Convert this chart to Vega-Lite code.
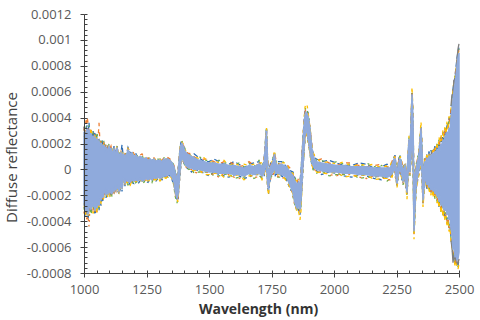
{
  "$schema": "https://vega.github.io/schema/vega-lite/v6.json",
  "width": 375,
  "height": 259,
  "autosize": "none",
  "padding": {"left": 84, "top": 14, "right": 21, "bottom": 47},
  "background": "white",
  "config": {"view": {"stroke": null}},
  "data": {"values": [
    {"w":1000,"lo":-2.8e-4,"hi":2.9e-4,"oh":3.0e-4,"ol":-3.4e-4,"bh":3.3e-4,"bl":-2.9e-4,"gh":3.1e-4,"gl":-3.1e-4,"yh":2.6e-4,"yl":-2.6e-4},
    {"w":1004,"lo":-2.3e-4,"hi":2.5e-4,"oh":3.8e-4,"ol":-2.4e-4,"bh":2.6e-4,"bl":-3.0e-4,"gh":2.9e-4,"gl":-2.5e-4,"yh":2.4e-4,"yl":-3.3e-4},
    {"w":1008,"lo":-3.3e-4,"hi":2.8e-4,"oh":2.9e-4,"ol":-3.4e-4,"bh":3.1e-4,"bl":-3.6e-4,"gh":3.3e-4,"gl":-3.2e-4,"yh":2.7e-4,"yl":-3.5e-4},
    {"w":1012,"lo":-2.7e-4,"hi":3.2e-4,"oh":4.1e-4,"ol":-4.0e-4,"bh":3.4e-4,"bl":-2.8e-4,"gh":2.8e-4,"gl":-3.0e-4,"yh":3.2e-4,"yl":-2.9e-4},
    {"w":1016,"lo":-3.5e-4,"hi":2.6e-4,"oh":3.6e-4,"ol":-3.6e-4,"bh":2.7e-4,"bl":-3.9e-4,"gh":3.0e-4,"gl":-3.4e-4,"yh":2.9e-4,"yl":-3.7e-4},
    {"w":1020,"lo":-3.0e-4,"hi":3.1e-4,"oh":3.0e-4,"ol":-4.4e-4,"bh":3.6e-4,"bl":-3.1e-4,"gh":3.4e-4,"gl":-3.3e-4,"yh":3.2e-4,"yl":-3.2e-4},
    {"w":1024,"lo":-2.5e-4,"hi":2.4e-4,"oh":2.6e-4,"ol":-2.7e-4,"bh":2.5e-4,"bl":-3.2e-4,"gh":2.9e-4,"gl":-2.6e-4,"yh":2.3e-4,"yl":-2.9e-4},
    {"w":1028,"lo":-3.1e-4,"hi":2.8e-4,"oh":3.0e-4,"ol":-3.0e-4,"bh":3.1e-4,"bl":-3.3e-4,"gh":2.7e-4,"gl":-3.5e-4,"yh":3.2e-4,"yl":-3.0e-4},
    {"w":1032,"lo":-2.5e-4,"hi":2.3e-4,"oh":2.9e-4,"ol":-2.7e-4,"bh":2.4e-4,"bl":-2.8e-4,"gh":2.6e-4,"gl":-3.1e-4,"yh":2.5e-4,"yl":-2.6e-4},
    {"w":1036,"lo":-2.9e-4,"hi":2.6e-4,"oh":2.7e-4,"ol":-3.1e-4,"bh":3.0e-4,"bl":-2.9e-4,"gh":2.8e-4,"gl":-3.2e-4,"yh":2.6e-4,"yl":-3.4e-4},
    {"w":1040,"lo":-2.6e-4,"hi":2.3e-4,"oh":2.8e-4,"ol":-2.9e-4,"bh":2.4e-4,"bl":-3.0e-4,"gh":2.5e-4,"gl":-2.7e-4,"yh":2.2e-4,"yl":-3.2e-4},
    {"w":1044,"lo":-3.2e-4,"hi":2.5e-4,"oh":2.4e-4,"ol":-3.4e-4,"bh":2.9e-4,"bl":-3.5e-4,"gh":2.6e-4,"gl":-3.3e-4,"yh":2.8e-4,"yl":-3.3e-4},
    {"w":1048,"lo":-2.7e-4,"hi":2.0e-4,"oh":2.6e-4,"ol":-2.8e-4,"bh":2.2e-4,"bl":-3.0e-4,"gh":2.3e-4,"gl":-3.1e-4,"yh":2.1e-4,"yl":-2.8e-4},
    {"w":1052,"lo":-3.0e-4,"hi":2.4e-4,"oh":2.3e-4,"ol":-3.3e-4,"bh":2.6e-4,"bl":-3.1e-4,"gh":2.9e-4,"gl":-3.0e-4,"yh":2.5e-4,"yl":-3.4e-4},
    {"w":1056,"lo":-2.4e-4,"hi":2.0e-4,"oh":2.2e-4,"ol":-2.7e-4,"bh":2.4e-4,"bl":-2.5e-4,"gh":2.1e-4,"gl":-2.8e-4,"yh":2.3e-4,"yl":-2.6e-4},
    {"w":1060,"lo":-2.8e-4,"hi":2.2e-4,"oh":3.6e-4,"ol":-2.9e-4,"bh":2.3e-4,"bl":-3.2e-4,"gh":2.4e-4,"gl":-3.0e-4,"yh":2.2e-4,"yl":-2.9e-4},
    {"w":1064,"lo":-2.1e-4,"hi":1.8e-4,"oh":2.0e-4,"ol":-2.3e-4,"bh":2.1e-4,"bl":-2.2e-4,"gh":1.9e-4,"gl":-2.4e-4,"yh":1.8e-4,"yl":-2.5e-4},
    {"w":1068,"lo":-2.4e-4,"hi":2.0e-4,"oh":2.2e-4,"ol":-2.5e-4,"bh":2.1e-4,"bl":-2.8e-4,"gh":2.4e-4,"gl":-2.5e-4,"yh":2.0e-4,"yl":-2.6e-4},
    {"w":1072,"lo":-1.8e-4,"hi":1.9e-4,"oh":2.0e-4,"ol":-2.0e-4,"bh":2.3e-4,"bl":-1.9e-4,"gh":2.0e-4,"gl":-2.1e-4,"yh":1.9e-4,"yl":-2.0e-4},
    {"w":1076,"lo":-2.2e-4,"hi":1.6e-4,"oh":1.8e-4,"ol":-2.3e-4,"bh":1.7e-4,"bl":-2.5e-4,"gh":1.9e-4,"gl":-2.2e-4,"yh":1.6e-4,"yl":-2.4e-4},
    {"w":1080,"lo":-1.8e-4,"hi":1.9e-4,"oh":2.1e-4,"ol":-2.0e-4,"bh":2.0e-4,"bl":-1.9e-4,"gh":2.2e-4,"gl":-1.8e-4,"yh":2.0e-4,"yl":-2.1e-4},
    {"w":1084,"lo":-1.6e-4,"hi":1.5e-4,"oh":1.6e-4,"ol":-1.7e-4,"bh":1.8e-4,"bl":-1.8e-4,"gh":1.5e-4,"gl":-1.9e-4,"yh":1.7e-4,"yl":-1.6e-4},
    {"w":1088,"lo":-2.0e-4,"hi":1.7e-4,"oh":1.9e-4,"ol":-2.0e-4,"bh":1.8e-4,"bl":-2.2e-4,"gh":2.0e-4,"gl":-2.1e-4,"yh":1.7e-4,"yl":-2.0e-4},
    {"w":1092,"lo":-1.7e-4,"hi":1.4e-4,"oh":1.5e-4,"ol":-1.8e-4,"bh":1.6e-4,"bl":-1.9e-4,"gh":1.5e-4,"gl":-1.8e-4,"yh":1.4e-4,"yl":-1.9e-4},
    {"w":1096,"lo":-1.9e-4,"hi":1.6e-4,"oh":1.7e-4,"ol":-2.1e-4,"bh":1.9e-4,"bl":-1.9e-4,"gh":1.6e-4,"gl":-2.0e-4,"yh":1.8e-4,"yl":-2.2e-4},
    {"w":1100,"lo":-1.5e-4,"hi":1.8e-4,"oh":1.9e-4,"ol":-1.6e-4,"bh":1.8e-4,"bl":-1.7e-4,"gh":2.0e-4,"gl":-1.5e-4,"yh":1.8e-4,"yl":-1.6e-4},
    {"w":1104,"lo":-1.8e-4,"hi":1.5e-4,"oh":1.6e-4,"ol":-1.9e-4,"bh":1.7e-4,"bl":-2.0e-4,"gh":1.5e-4,"gl":-1.8e-4,"yh":1.6e-4,"yl":-2.1e-4},
    {"w":1108,"lo":-1.6e-4,"hi":1.6e-4,"oh":1.8e-4,"ol":-1.6e-4,"bh":1.6e-4,"bl":-1.8e-4,"gh":1.7e-4,"gl":-1.7e-4,"yh":1.6e-4,"yl":-1.6e-4},
    {"w":1112,"lo":-1.9e-4,"hi":1.3e-4,"oh":1.4e-4,"ol":-2.0e-4,"bh":1.5e-4,"bl":-1.9e-4,"gh":1.3e-4,"gl":-2.1e-4,"yh":1.4e-4,"yl":-1.9e-4},
    {"w":1116,"lo":-1.5e-4,"hi":1.4e-4,"oh":1.5e-4,"ol":-1.6e-4,"bh":1.4e-4,"bl":-1.5e-4,"gh":1.6e-4,"gl":-1.6e-4,"yh":1.5e-4,"yl":-1.7e-4},
    {"w":1120,"lo":-1.7e-4,"hi":1.6e-4,"oh":1.6e-4,"ol":-1.8e-4,"bh":1.8e-4,"bl":-1.7e-4,"gh":1.6e-4,"gl":-1.9e-4,"yh":1.7e-4,"yl":-1.7e-4},
    {"w":1124,"lo":-1.4e-4,"hi":1.2e-4,"oh":1.3e-4,"ol":-1.5e-4,"bh":1.3e-4,"bl":-1.6e-4,"gh":1.4e-4,"gl":-1.4e-4,"yh":1.2e-4,"yl":-1.5e-4},
    {"w":1128,"lo":-1.6e-4,"hi":1.4e-4,"oh":1.6e-4,"ol":-1.7e-4,"bh":1.5e-4,"bl":-1.6e-4,"gh":1.4e-4,"gl":-1.8e-4,"yh":1.5e-4,"yl":-1.6e-4},
    {"w":1132,"lo":-1.3e-4,"hi":1.7e-4,"oh":1.7e-4,"ol":-1.4e-4,"bh":1.8e-4,"bl":-1.3e-4,"gh":1.7e-4,"gl":-1.4e-4,"yh":1.8e-4,"yl":-1.5e-4},
    {"w":1136,"lo":-1.5e-4,"hi":1.3e-4,"oh":1.4e-4,"ol":-1.6e-4,"bh":1.3e-4,"bl":-1.7e-4,"gh":1.5e-4,"gl":-1.5e-4,"yh":1.4e-4,"yl":-1.6e-4},
    {"w":1140,"lo":-1.7e-4,"hi":1.2e-4,"oh":1.3e-4,"ol":-1.8e-4,"bh":1.2e-4,"bl":-1.9e-4,"gh":1.3e-4,"gl":-1.7e-4,"yh":1.2e-4,"yl":-1.8e-4},
    {"w":1144,"lo":-1.4e-4,"hi":1.1e-4,"oh":1.2e-4,"ol":-1.5e-4,"bh":1.1e-4,"bl":-1.6e-4,"gh":1.2e-4,"gl":-1.4e-4,"yh":1.1e-4,"yl":-1.5e-4},
    {"w":1148,"lo":-1.2e-4,"hi":1.3e-4,"oh":1.4e-4,"ol":-1.3e-4,"bh":1.3e-4,"bl":-1.2e-4,"gh":1.3e-4,"gl":-1.4e-4,"yh":1.4e-4,"yl":-1.3e-4},
    {"w":1152,"lo":-1.5e-4,"hi":1.0e-4,"oh":1.1e-4,"ol":-1.6e-4,"bh":1.9e-4,"bl":-1.7e-4,"gh":1.1e-4,"gl":-1.5e-4,"yh":1.0e-4,"yl":-1.6e-4},
    {"w":1156,"lo":-0.7e-4,"hi":1.2e-4,"oh":1.3e-4,"ol":-0.8e-4,"bh":1.2e-4,"bl":-0.9e-4,"gh":1.4e-4,"gl":-0.7e-4,"yh":1.3e-4,"yl":-0.8e-4},
    {"w":1160,"lo":-0.8e-4,"hi":0.9e-4,"oh":1.0e-4,"ol":-0.9e-4,"bh":1.1e-4,"bl":-0.8e-4,"gh":0.9e-4,"gl":-1.0e-4,"yh":1.0e-4,"yl":-0.9e-4},
    {"w":1164,"lo":-1.1e-4,"hi":1.1e-4,"oh":1.2e-4,"ol":-1.2e-4,"bh":1.1e-4,"bl":-1.3e-4,"gh":1.2e-4,"gl":-1.1e-4,"yh":1.1e-4,"yl":-1.2e-4},
    {"w":1168,"lo":-0.8e-4,"hi":1.0e-4,"oh":1.1e-4,"ol":-0.9e-4,"bh":1.0e-4,"bl":-0.8e-4,"gh":1.2e-4,"gl":-0.9e-4,"yh":1.0e-4,"yl":-1.0e-4},
    {"w":1176,"lo":-0.9e-4,"hi":1.5e-4,"oh":1.6e-4,"ol":-1.0e-4,"bh":1.7e-4,"bl":-0.9e-4,"gh":1.5e-4,"gl":-1.2e-4,"yh":1.6e-4,"yl":-1.0e-4},
    {"w":1184,"lo":-1.0e-4,"hi":1.2e-4,"oh":1.4e-4,"ol":-1.1e-4,"bh":1.3e-4,"bl":-1.2e-4,"gh":1.2e-4,"gl":-1.0e-4,"yh":1.3e-4,"yl":-1.3e-4},
    {"w":1192,"lo":-0.8e-4,"hi":1.3e-4,"oh":1.5e-4,"ol":-0.9e-4,"bh":1.3e-4,"bl":-1.0e-4,"gh":1.4e-4,"gl":-0.9e-4,"yh":1.3e-4,"yl":-0.8e-4},
    {"w":1200,"lo":-0.9e-4,"hi":1.0e-4,"oh":1.2e-4,"ol":-1.0e-4,"bh":1.1e-4,"bl":-1.1e-4,"gh":1.0e-4,"gl":-1.2e-4,"yh":1.1e-4,"yl":-0.9e-4},
    {"w":1208,"lo":-0.8e-4,"hi":1.1e-4,"oh":1.0e-4,"ol":-0.9e-4,"bh":1.2e-4,"bl":-0.8e-4,"gh":1.1e-4,"gl":-1.0e-4,"yh":1.2e-4,"yl":-0.9e-4},
    {"w":1216,"lo":-0.9e-4,"hi":0.9e-4,"oh":1.0e-4,"ol":-1.0e-4,"bh":0.9e-4,"bl":-1.1e-4,"gh":1.0e-4,"gl":-0.9e-4,"yh":0.9e-4,"yl":-1.0e-4},
    {"w":1224,"lo":-0.7e-4,"hi":1.0e-4,"oh":1.1e-4,"ol":-0.8e-4,"bh":1.0e-4,"bl":-0.9e-4,"gh":1.1e-4,"gl":-0.7e-4,"yh":1.0e-4,"yl":-0.8e-4},
    {"w":1232,"lo":-0.9e-4,"hi":0.9e-4,"oh":1.2e-4,"ol":-0.9e-4,"bh":0.9e-4,"bl":-1.0e-4,"gh":1.0e-4,"gl":-1.1e-4,"yh":0.9e-4,"yl":-0.9e-4},
    {"w":1240,"lo":-0.8e-4,"hi":0.8e-4,"oh":0.9e-4,"ol":-0.9e-4,"bh":0.8e-4,"bl":-0.8e-4,"gh":0.9e-4,"gl":-1.0e-4,"yh":0.8e-4,"yl":-0.9e-4},
    {"w":1248,"lo":-0.7e-4,"hi":0.9e-4,"oh":1.0e-4,"ol":-0.8e-4,"bh":0.9e-4,"bl":-0.9e-4,"gh":0.9e-4,"gl":-0.7e-4,"yh":1.0e-4,"yl":-0.8e-4},
    {"w":1256,"lo":-0.8e-4,"hi":0.7e-4,"oh":0.8e-4,"ol":-0.9e-4,"bh":0.7e-4,"bl":-1.0e-4,"gh":0.8e-4,"gl":-0.8e-4,"yh":0.7e-4,"yl":-0.9e-4},
    {"w":1264,"lo":-0.7e-4,"hi":0.8e-4,"oh":0.9e-4,"ol":-0.7e-4,"bh":0.8e-4,"bl":-0.8e-4,"gh":1.0e-4,"gl":-0.7e-4,"yh":0.8e-4,"yl":-0.8e-4},
    {"w":1272,"lo":-0.8e-4,"hi":0.7e-4,"oh":0.7e-4,"ol":-0.9e-4,"bh":0.8e-4,"bl":-0.8e-4,"gh":0.7e-4,"gl":-1.0e-4,"yh":0.8e-4,"yl":-0.8e-4},
    {"w":1280,"lo":-0.6e-4,"hi":0.8e-4,"oh":0.9e-4,"ol":-0.7e-4,"bh":0.8e-4,"bl":-0.7e-4,"gh":0.8e-4,"gl":-0.6e-4,"yh":0.9e-4,"yl":-0.8e-4},
    {"w":1288,"lo":-0.7e-4,"hi":0.6e-4,"oh":0.7e-4,"ol":-0.8e-4,"bh":0.6e-4,"bl":-0.9e-4,"gh":0.7e-4,"gl":-0.7e-4,"yh":0.6e-4,"yl":-0.8e-4},
    {"w":1296,"lo":-0.6e-4,"hi":0.7e-4,"oh":0.8e-4,"ol":-0.6e-4,"bh":0.7e-4,"bl":-0.7e-4,"gh":0.8e-4,"gl":-0.8e-4,"yh":0.7e-4,"yl":-0.6e-4},
    {"w":1304,"lo":-0.7e-4,"hi":0.7e-4,"oh":0.7e-4,"ol":-0.8e-4,"bh":0.8e-4,"bl":-0.7e-4,"gh":0.7e-4,"gl":-0.7e-4,"yh":0.8e-4,"yl":-0.9e-4},
    {"w":1312,"lo":-0.6e-4,"hi":0.6e-4,"oh":0.7e-4,"ol":-0.6e-4,"bh":0.6e-4,"bl":-0.8e-4,"gh":0.7e-4,"gl":-0.6e-4,"yh":0.6e-4,"yl":-0.7e-4},
    {"w":1320,"lo":-0.5e-4,"hi":0.8e-4,"oh":0.9e-4,"ol":-0.6e-4,"bh":0.8e-4,"bl":-0.5e-4,"gh":0.9e-4,"gl":-0.7e-4,"yh":0.8e-4,"yl":-0.6e-4},
    {"w":1328,"lo":-0.5e-4,"hi":0.7e-4,"oh":0.7e-4,"ol":-0.6e-4,"bh":0.8e-4,"bl":-0.6e-4,"gh":0.7e-4,"gl":-0.5e-4,"yh":0.7e-4,"yl":-0.7e-4},
    {"w":1336,"lo":-0.4e-4,"hi":0.8e-4,"oh":0.9e-4,"ol":-0.5e-4,"bh":0.8e-4,"bl":-0.4e-4,"gh":0.8e-4,"gl":-0.6e-4,"yh":0.9e-4,"yl":-0.5e-4},
    {"w":1344,"lo":-0.4e-4,"hi":0.7e-4,"oh":0.8e-4,"ol":-0.5e-4,"bh":0.7e-4,"bl":-0.5e-4,"gh":0.8e-4,"gl":-0.4e-4,"yh":0.7e-4,"yl":-0.5e-4},
    {"w":1352,"lo":-0.6e-4,"hi":0.5e-4,"oh":0.6e-4,"ol":-0.7e-4,"bh":0.5e-4,"bl":-0.8e-4,"gh":0.6e-4,"gl":-0.6e-4,"yh":0.5e-4,"yl":-0.7e-4},
    {"w":1360,"lo":-1.0e-4,"hi":0.2e-4,"oh":0.3e-4,"ol":-1.1e-4,"bh":0.2e-4,"bl":-1.2e-4,"gh":0.3e-4,"gl":-1.3e-4,"yh":0.2e-4,"yl":-1.1e-4},
    {"w":1364,"lo":-1.6e-4,"hi":-0.2e-4,"oh":-0.1e-4,"ol":-1.8e-4,"bh":-0.2e-4,"bl":-1.7e-4,"gh":-0.1e-4,"gl":-2.0e-4,"yh":-0.2e-4,"yl":-1.7e-4},
    {"w":1368,"lo":-2.0e-4,"hi":-0.5e-4,"oh":-0.4e-4,"ol":-2.2e-4,"bh":-0.4e-4,"bl":-2.1e-4,"gh":-0.3e-4,"gl":-2.3e-4,"yh":-0.5e-4,"yl":-2.1e-4},
    {"w":1372,"lo":-2.2e-4,"hi":-0.7e-4,"oh":-0.6e-4,"ol":-2.3e-4,"bh":-0.6e-4,"bl":-2.4e-4,"gh":-0.5e-4,"gl":-2.6e-4,"yh":-0.7e-4,"yl":-2.3e-4},
    {"w":1376,"lo":-2.0e-4,"hi":-0.3e-4,"oh":-0.2e-4,"ol":-2.2e-4,"bh":-0.2e-4,"bl":-2.4e-4,"gh":-0.1e-4,"gl":-2.1e-4,"yh":-0.3e-4,"yl":-2.5e-4},
    {"w":1380,"lo":-1.2e-4,"hi":0.6e-4,"oh":0.7e-4,"ol":-1.4e-4,"bh":0.7e-4,"bl":-1.3e-4,"gh":0.8e-4,"gl":-1.3e-4,"yh":0.6e-4,"yl":-1.2e-4},
    {"w":1384,"lo":-0.2e-4,"hi":1.5e-4,"oh":1.6e-4,"ol":-0.3e-4,"bh":1.6e-4,"bl":-0.4e-4,"gh":1.7e-4,"gl":-0.3e-4,"yh":1.6e-4,"yl":-0.2e-4},
    {"w":1388,"lo":0.6e-4,"hi":1.9e-4,"oh":2.0e-4,"ol":0.5e-4,"bh":2.1e-4,"bl":0.5e-4,"gh":2.0e-4,"gl":0.4e-4,"yh":2.0e-4,"yl":0.6e-4},
    {"w":1392,"lo":0.9e-4,"hi":2.0e-4,"oh":2.1e-4,"ol":0.8e-4,"bh":2.1e-4,"bl":0.7e-4,"gh":2.2e-4,"gl":0.8e-4,"yh":2.1e-4,"yl":0.9e-4},
    {"w":1396,"lo":0.8e-4,"hi":1.8e-4,"oh":1.9e-4,"ol":0.7e-4,"bh":2.0e-4,"bl":0.7e-4,"gh":1.9e-4,"gl":0.6e-4,"yh":2.0e-4,"yl":0.8e-4},
    {"w":1400,"lo":0.6e-4,"hi":1.6e-4,"oh":1.7e-4,"ol":0.5e-4,"bh":1.7e-4,"bl":0.5e-4,"gh":1.8e-4,"gl":0.5e-4,"yh":1.7e-4,"yl":0.6e-4},
    {"w":1404,"lo":0.4e-4,"hi":1.4e-4,"oh":1.5e-4,"ol":0.3e-4,"bh":1.5e-4,"bl":0.3e-4,"gh":1.6e-4,"gl":0.3e-4,"yh":1.5e-4,"yl":0.4e-4},
    {"w":1412,"lo":0.2e-4,"hi":1.2e-4,"oh":1.3e-4,"ol":0.1e-4,"bh":1.3e-4,"bl":0.1e-4,"gh":1.3e-4,"gl":0.1e-4,"yh":1.3e-4,"yl":0.2e-4},
    {"w":1420,"lo":0.1e-4,"hi":1.1e-4,"oh":1.2e-4,"ol":0,"bh":1.1e-4,"bl":0,"gh":1.2e-4,"gl":0,"yh":1.2e-4,"yl":0.1e-4},
    {"w":1430,"lo":0.1e-4,"hi":1.0e-4,"oh":1.3e-4,"ol":0,"bh":1.1e-4,"bl":-0.2e-4,"gh":1.2e-4,"gl":0.1e-4,"yh":1.0e-4,"yl":-0.1e-4},
    {"w":1440,"lo":0,"hi":0.9e-4,"oh":1.0e-4,"ol":-0.2e-4,"bh":1.2e-4,"bl":0,"gh":0.9e-4,"gl":-0.3e-4,"yh":1.1e-4,"yl":-0.1e-4},
    {"w":1460,"lo":0,"hi":0.7e-4,"oh":0.7e-4,"ol":-0.3e-4,"bh":0.9e-4,"bl":-0.1e-4,"gh":1.0e-4,"gl":-0.2e-4,"yh":0.8e-4,"yl":0},
    {"w":1480,"lo":-0.1e-4,"hi":0.6e-4,"oh":0.8e-4,"ol":-0.1e-4,"bh":0.6e-4,"bl":-0.3e-4,"gh":0.7e-4,"gl":-0.2e-4,"yh":0.9e-4,"yl":-0.4e-4},
    {"w":1500,"lo":-0.2e-4,"hi":0.5e-4,"oh":0.8e-4,"ol":-0.3e-4,"bh":0.6e-4,"bl":-0.5e-4,"gh":0.7e-4,"gl":-0.2e-4,"yh":0.5e-4,"yl":-0.4e-4},
    {"w":1520,"lo":-0.2e-4,"hi":0.5e-4,"oh":0.6e-4,"ol":-0.4e-4,"bh":0.8e-4,"bl":-0.2e-4,"gh":0.5e-4,"gl":-0.5e-4,"yh":0.7e-4,"yl":-0.3e-4},
    {"w":1540,"lo":-0.3e-4,"hi":0.4e-4,"oh":0.4e-4,"ol":-0.6e-4,"bh":0.6e-4,"bl":-0.4e-4,"gh":0.7e-4,"gl":-0.5e-4,"yh":0.5e-4,"yl":-0.3e-4},
    {"w":1560,"lo":-0.3e-4,"hi":0.4e-4,"oh":0.6e-4,"ol":-0.3e-4,"bh":0.4e-4,"bl":-0.5e-4,"gh":0.5e-4,"gl":-0.4e-4,"yh":0.7e-4,"yl":-0.6e-4},
    {"w":1580,"lo":-0.3e-4,"hi":0.3e-4,"oh":0.6e-4,"ol":-0.4e-4,"bh":0.4e-4,"bl":-0.6e-4,"gh":0.5e-4,"gl":-0.3e-4,"yh":0.3e-4,"yl":-0.5e-4},
    {"w":1600,"lo":-0.4e-4,"hi":0.3e-4,"oh":0.4e-4,"ol":-0.6e-4,"bh":0.6e-4,"bl":-0.4e-4,"gh":0.3e-4,"gl":-0.7e-4,"yh":0.5e-4,"yl":-0.5e-4},
    {"w":1620,"lo":-0.4e-4,"hi":0.2e-4,"oh":0.2e-4,"ol":-0.7e-4,"bh":0.4e-4,"bl":-0.5e-4,"gh":0.5e-4,"gl":-0.6e-4,"yh":0.3e-4,"yl":-0.4e-4},
    {"w":1640,"lo":-0.5e-4,"hi":0.1e-4,"oh":0.3e-4,"ol":-0.5e-4,"bh":0.1e-4,"bl":-0.7e-4,"gh":0.2e-4,"gl":-0.6e-4,"yh":0.4e-4,"yl":-0.8e-4},
    {"w":1660,"lo":-0.3e-4,"hi":0.3e-4,"oh":0.6e-4,"ol":-0.4e-4,"bh":0.4e-4,"bl":-0.6e-4,"gh":0.5e-4,"gl":-0.3e-4,"yh":0.3e-4,"yl":-0.5e-4},
    {"w":1680,"lo":-0.4e-4,"hi":0.2e-4,"oh":0.3e-4,"ol":-0.6e-4,"bh":0.5e-4,"bl":-0.4e-4,"gh":0.2e-4,"gl":-0.7e-4,"yh":0.4e-4,"yl":-0.5e-4},
    {"w":1700,"lo":-0.3e-4,"hi":0.4e-4,"oh":0.4e-4,"ol":-0.6e-4,"bh":0.6e-4,"bl":-0.4e-4,"gh":0.7e-4,"gl":-0.5e-4,"yh":0.5e-4,"yl":-0.3e-4},
    {"w":1712,"lo":-0.5e-4,"hi":0.2e-4,"oh":0.4e-4,"ol":-0.5e-4,"bh":0.2e-4,"bl":-0.7e-4,"gh":0.3e-4,"gl":-0.6e-4,"yh":0.5e-4,"yl":-0.8e-4},
    {"w":1720,"lo":-0.3e-4,"hi":0.5e-4,"oh":0.8e-4,"ol":-0.4e-4,"bh":0.6e-4,"bl":-0.6e-4,"gh":0.7e-4,"gl":-0.3e-4,"yh":0.5e-4,"yl":-0.5e-4},
    {"w":1726,"lo":0.3e-4,"hi":2.0e-4,"oh":2.1e-4,"ol":0.1e-4,"bh":2.3e-4,"bl":0.3e-4,"gh":2.0e-4,"gl":0,"yh":2.2e-4,"yl":0.2e-4},
    {"w":1730,"lo":1.2e-4,"hi":3.0e-4,"oh":3.0e-4,"ol":0.9e-4,"bh":3.2e-4,"bl":1.1e-4,"gh":3.3e-4,"gl":1.0e-4,"yh":3.2e-4,"yl":1.2e-4},
    {"w":1734,"lo":-1.0e-4,"hi":0.8e-4,"oh":1.0e-4,"ol":-1.0e-4,"bh":0.8e-4,"bl":-1.2e-4,"gh":0.9e-4,"gl":-1.1e-4,"yh":1.1e-4,"yl":-1.3e-4},
    {"w":1738,"lo":-1.6e-4,"hi":-0.6e-4,"oh":-0.3e-4,"ol":-1.7e-4,"bh":-0.5e-4,"bl":-1.9e-4,"gh":-0.4e-4,"gl":-1.6e-4,"yh":-0.6e-4,"yl":-2.0e-4},
    {"w":1742,"lo":-0.8e-4,"hi":0,"oh":0.2e-4,"ol":-0.9e-4,"bh":0.1e-4,"bl":-1.1e-4,"gh":0.3e-4,"gl":-0.8e-4,"yh":0,"yl":-1.0e-4},
    {"w":1748,"lo":-0.4e-4,"hi":0.3e-4,"oh":0.4e-4,"ol":-0.7e-4,"bh":0.6e-4,"bl":-0.5e-4,"gh":0.3e-4,"gl":-0.6e-4,"yh":0.5e-4,"yl":-0.4e-4},
    {"w":1756,"lo":-0.2e-4,"hi":0.6e-4,"oh":0.6e-4,"ol":-0.5e-4,"bh":0.8e-4,"bl":-0.3e-4,"gh":0.9e-4,"gl":-0.4e-4,"yh":0.7e-4,"yl":-0.2e-4},
    {"w":1762,"lo":0.2e-4,"hi":1.2e-4,"oh":1.4e-4,"ol":0.2e-4,"bh":1.2e-4,"bl":0,"gh":1.3e-4,"gl":0.1e-4,"yh":1.5e-4,"yl":-0.1e-4},
    {"w":1766,"lo":-0.3e-4,"hi":0.6e-4,"oh":0.9e-4,"ol":-0.4e-4,"bh":0.7e-4,"bl":-0.6e-4,"gh":0.8e-4,"gl":-0.3e-4,"yh":0.6e-4,"yl":-0.5e-4},
    {"w":1772,"lo":-0.3e-4,"hi":0.3e-4,"oh":0.4e-4,"ol":-0.5e-4,"bh":0.6e-4,"bl":-0.3e-4,"gh":0.3e-4,"gl":-0.6e-4,"yh":0.5e-4,"yl":-0.4e-4},
    {"w":1790,"lo":-0.4e-4,"hi":0.4e-4,"oh":0.4e-4,"ol":-0.7e-4,"bh":0.6e-4,"bl":-0.5e-4,"gh":0.7e-4,"gl":-0.6e-4,"yh":0.5e-4,"yl":-0.4e-4},
    {"w":1810,"lo":-0.6e-4,"hi":0.2e-4,"oh":0.4e-4,"ol":-0.6e-4,"bh":0.2e-4,"bl":-0.8e-4,"gh":0.3e-4,"gl":-0.7e-4,"yh":0.5e-4,"yl":-0.9e-4},
    {"w":1824,"lo":-1.2e-4,"hi":-0.2e-4,"oh":0.1e-4,"ol":-1.3e-4,"bh":-0.1e-4,"bl":-1.5e-4,"gh":0,"gl":-1.2e-4,"yh":-0.2e-4,"yl":-1.4e-4},
    {"w":1836,"lo":-1.8e-4,"hi":-0.5e-4,"oh":-0.4e-4,"ol":-2.0e-4,"bh":-0.2e-4,"bl":-1.8e-4,"gh":-0.5e-4,"gl":-2.1e-4,"yh":-0.3e-4,"yl":-1.9e-4},
    {"w":1844,"lo":-2.6e-4,"hi":-0.9e-4,"oh":-0.9e-4,"ol":-2.9e-4,"bh":-0.7e-4,"bl":-2.7e-4,"gh":-0.6e-4,"gl":-2.8e-4,"yh":-0.8e-4,"yl":-2.6e-4},
    {"w":1852,"lo":-3.0e-4,"hi":-1.2e-4,"oh":-1.0e-4,"ol":-3.0e-4,"bh":-1.2e-4,"bl":-3.2e-4,"gh":-1.1e-4,"gl":-3.1e-4,"yh":-0.9e-4,"yl":-3.3e-4},
    {"w":1858,"lo":-2.8e-4,"hi":-1.0e-4,"oh":-0.7e-4,"ol":-2.9e-4,"bh":-0.9e-4,"bl":-3.1e-4,"gh":-0.8e-4,"gl":-2.8e-4,"yh":-1.0e-4,"yl":-3.2e-4},
    {"w":1864,"lo":-3.1e-4,"hi":-1.3e-4,"oh":-1.1e-4,"ol":-3.3e-4,"bh":-0.9e-4,"bl":-3.5e-4,"gh":-1.2e-4,"gl":-3.2e-4,"yh":-1.0e-4,"yl":-3.9e-4},
    {"w":1868,"lo":-2.4e-4,"hi":-0.4e-4,"oh":-0.3e-4,"ol":-2.6e-4,"bh":-0.1e-4,"bl":-2.5e-4,"gh":-0.2e-4,"gl":-2.8e-4,"yh":-0.4e-4,"yl":-3.2e-4},
    {"w":1872,"lo":-1.0e-4,"hi":1.0e-4,"oh":1.2e-4,"ol":-1.1e-4,"bh":1.1e-4,"bl":-1.3e-4,"gh":1.3e-4,"gl":-1.2e-4,"yh":1.0e-4,"yl":-1.4e-4},
    {"w":1876,"lo":0.3e-4,"hi":2.2e-4,"oh":2.4e-4,"ol":0.2e-4,"bh":2.5e-4,"bl":0,"gh":2.3e-4,"gl":0.1e-4,"yh":2.6e-4,"yl":0.2e-4},
    {"w":1880,"lo":1.5e-4,"hi":3.4e-4,"oh":3.6e-4,"ol":1.3e-4,"bh":3.7e-4,"bl":1.4e-4,"gh":3.5e-4,"gl":1.2e-4,"yh":3.9e-4,"yl":1.3e-4},
    {"w":1884,"lo":2.6e-4,"hi":4.2e-4,"oh":4.4e-4,"ol":2.4e-4,"bh":4.5e-4,"bl":2.5e-4,"gh":4.6e-4,"gl":2.3e-4,"yh":4.8e-4,"yl":2.4e-4},
    {"w":1888,"lo":3.0e-4,"hi":4.4e-4,"oh":4.7e-4,"ol":2.8e-4,"bh":4.6e-4,"bl":2.7e-4,"gh":4.8e-4,"gl":2.9e-4,"yh":5.1e-4,"yl":2.8e-4},
    {"w":1892,"lo":2.9e-4,"hi":4.3e-4,"oh":4.6e-4,"ol":2.7e-4,"bh":4.5e-4,"bl":2.6e-4,"gh":4.7e-4,"gl":2.8e-4,"yh":5.0e-4,"yl":2.7e-4},
    {"w":1896,"lo":2.5e-4,"hi":4.1e-4,"oh":4.3e-4,"ol":2.3e-4,"bh":4.4e-4,"bl":2.4e-4,"gh":4.2e-4,"gl":2.2e-4,"yh":4.5e-4,"yl":2.3e-4},
    {"w":1900,"lo":2.0e-4,"hi":3.6e-4,"oh":3.8e-4,"ol":1.8e-4,"bh":3.7e-4,"bl":1.9e-4,"gh":3.9e-4,"gl":1.7e-4,"yh":3.8e-4,"yl":1.9e-4},
    {"w":1904,"lo":1.4e-4,"hi":3.0e-4,"oh":3.2e-4,"ol":1.3e-4,"bh":3.1e-4,"bl":1.2e-4,"gh":3.3e-4,"gl":1.3e-4,"yh":3.2e-4,"yl":1.1e-4},
    {"w":1908,"lo":0.9e-4,"hi":2.3e-4,"oh":2.5e-4,"ol":0.8e-4,"bh":2.4e-4,"bl":0.7e-4,"gh":2.5e-4,"gl":0.8e-4,"yh":2.6e-4,"yl":0.7e-4},
    {"w":1912,"lo":0.5e-4,"hi":1.6e-4,"oh":1.8e-4,"ol":0.4e-4,"bh":1.7e-4,"bl":0.3e-4,"gh":1.8e-4,"gl":0.4e-4,"yh":1.9e-4,"yl":0.3e-4},
    {"w":1916,"lo":0.3e-4,"hi":1.1e-4,"oh":1.2e-4,"ol":0.1e-4,"bh":1.3e-4,"bl":0.2e-4,"gh":1.2e-4,"gl":0,"yh":1.3e-4,"yl":0.1e-4},
    {"w":1922,"lo":0.1e-4,"hi":0.8e-4,"oh":1.0e-4,"ol":0,"bh":0.9e-4,"bl":-0.1e-4,"gh":0.9e-4,"gl":-0.2e-4,"yh":1.1e-4,"yl":0},
    {"w":1930,"lo":0,"hi":0.6e-4,"oh":0.7e-4,"ol":-0.2e-4,"bh":0.8e-4,"bl":-0.1e-4,"gh":0.7e-4,"gl":-0.3e-4,"yh":0.9e-4,"yl":-0.2e-4},
    {"w":1950,"lo":-0.1e-4,"hi":0.5e-4,"oh":0.8e-4,"ol":-0.2e-4,"bh":0.6e-4,"bl":-0.4e-4,"gh":0.7e-4,"gl":-0.1e-4,"yh":0.5e-4,"yl":-0.3e-4},
    {"w":1980,"lo":-0.2e-4,"hi":0.4e-4,"oh":0.5e-4,"ol":-0.4e-4,"bh":0.7e-4,"bl":-0.2e-4,"gh":0.4e-4,"gl":-0.5e-4,"yh":0.6e-4,"yl":-0.3e-4},
    {"w":2010,"lo":-0.2e-4,"hi":0.3e-4,"oh":0.3e-4,"ol":-0.5e-4,"bh":0.5e-4,"bl":-0.3e-4,"gh":0.6e-4,"gl":-0.4e-4,"yh":0.4e-4,"yl":-0.2e-4},
    {"w":2040,"lo":-0.3e-4,"hi":0.3e-4,"oh":0.5e-4,"ol":-0.3e-4,"bh":0.3e-4,"bl":-0.5e-4,"gh":0.4e-4,"gl":-0.4e-4,"yh":0.6e-4,"yl":-0.6e-4},
    {"w":2070,"lo":-0.3e-4,"hi":0.2e-4,"oh":0.5e-4,"ol":-0.4e-4,"bh":0.3e-4,"bl":-0.6e-4,"gh":0.4e-4,"gl":-0.3e-4,"yh":0.2e-4,"yl":-0.5e-4},
    {"w":2100,"lo":-0.4e-4,"hi":0.2e-4,"oh":0.3e-4,"ol":-0.6e-4,"bh":0.5e-4,"bl":-0.4e-4,"gh":0.2e-4,"gl":-0.7e-4,"yh":0.4e-4,"yl":-0.5e-4},
    {"w":2130,"lo":-0.4e-4,"hi":0.2e-4,"oh":0.2e-4,"ol":-0.7e-4,"bh":0.4e-4,"bl":-0.5e-4,"gh":0.5e-4,"gl":-0.6e-4,"yh":0.3e-4,"yl":-0.4e-4},
    {"w":2160,"lo":-0.5e-4,"hi":0.1e-4,"oh":0.3e-4,"ol":-0.5e-4,"bh":0.1e-4,"bl":-0.7e-4,"gh":0.2e-4,"gl":-0.6e-4,"yh":0.4e-4,"yl":-0.8e-4},
    {"w":2190,"lo":-0.5e-4,"hi":0.1e-4,"oh":0.4e-4,"ol":-0.6e-4,"bh":0.2e-4,"bl":-0.8e-4,"gh":0.3e-4,"gl":-0.5e-4,"yh":0.1e-4,"yl":-0.7e-4},
    {"w":2212,"lo":-0.6e-4,"hi":0.1e-4,"oh":0.2e-4,"ol":-0.8e-4,"bh":0.4e-4,"bl":-0.6e-4,"gh":0.1e-4,"gl":-0.9e-4,"yh":0.3e-4,"yl":-0.7e-4},
    {"w":2224,"lo":-0.5e-4,"hi":0.1e-4,"oh":0.1e-4,"ol":-0.8e-4,"bh":0.3e-4,"bl":-0.6e-4,"gh":0.4e-4,"gl":-0.7e-4,"yh":0.2e-4,"yl":-0.5e-4},
    {"w":2232,"lo":-0.3e-4,"hi":0.4e-4,"oh":0.6e-4,"ol":-0.3e-4,"bh":0.4e-4,"bl":-0.5e-4,"gh":0.5e-4,"gl":-0.4e-4,"yh":0.7e-4,"yl":-0.6e-4},
    {"w":2240,"lo":0,"hi":0.8e-4,"oh":1.1e-4,"ol":-0.1e-4,"bh":0.9e-4,"bl":-0.3e-4,"gh":1.0e-4,"gl":0,"yh":0.8e-4,"yl":-0.2e-4},
    {"w":2244,"lo":-0.1e-4,"hi":0.8e-4,"oh":0.9e-4,"ol":-0.3e-4,"bh":1.1e-4,"bl":-0.1e-4,"gh":0.8e-4,"gl":-0.4e-4,"yh":1.0e-4,"yl":-0.2e-4},
    {"w":2248,"lo":-0.6e-4,"hi":0.2e-4,"oh":0.2e-4,"ol":-0.9e-4,"bh":0.4e-4,"bl":-0.7e-4,"gh":0.5e-4,"gl":-0.8e-4,"yh":0.3e-4,"yl":-0.6e-4},
    {"w":2252,"lo":-1.1e-4,"hi":-0.2e-4,"oh":0,"ol":-1.1e-4,"bh":-0.2e-4,"bl":-1.3e-4,"gh":-0.1e-4,"gl":-1.2e-4,"yh":0.1e-4,"yl":-1.4e-4},
    {"w":2256,"lo":-0.6e-4,"hi":0.2e-4,"oh":0.5e-4,"ol":-0.7e-4,"bh":0.3e-4,"bl":-0.9e-4,"gh":0.4e-4,"gl":-0.6e-4,"yh":0.2e-4,"yl":-0.8e-4},
    {"w":2260,"lo":-0.1e-4,"hi":0.6e-4,"oh":0.7e-4,"ol":-0.3e-4,"bh":0.9e-4,"bl":-0.1e-4,"gh":0.6e-4,"gl":-0.4e-4,"yh":0.8e-4,"yl":-0.2e-4},
    {"w":2264,"lo":0,"hi":0.8e-4,"oh":0.8e-4,"ol":-0.3e-4,"bh":1.0e-4,"bl":-0.1e-4,"gh":1.1e-4,"gl":-0.2e-4,"yh":0.9e-4,"yl":0},
    {"w":2268,"lo":-0.2e-4,"hi":0.7e-4,"oh":0.9e-4,"ol":-0.2e-4,"bh":0.7e-4,"bl":-0.4e-4,"gh":0.8e-4,"gl":-0.3e-4,"yh":1.0e-4,"yl":-0.5e-4},
    {"w":2272,"lo":-0.5e-4,"hi":0.2e-4,"oh":0.5e-4,"ol":-0.6e-4,"bh":0.3e-4,"bl":-0.8e-4,"gh":0.4e-4,"gl":-0.5e-4,"yh":0.2e-4,"yl":-0.7e-4},
    {"w":2276,"lo":-0.9e-4,"hi":-0.1e-4,"oh":0,"ol":-1.1e-4,"bh":0.2e-4,"bl":-0.9e-4,"gh":-0.1e-4,"gl":-1.2e-4,"yh":0.1e-4,"yl":-1.0e-4},
    {"w":2280,"lo":-0.7e-4,"hi":0.1e-4,"oh":0.1e-4,"ol":-1.0e-4,"bh":0.3e-4,"bl":-0.8e-4,"gh":0.4e-4,"gl":-0.9e-4,"yh":0.2e-4,"yl":-0.7e-4},
    {"w":2284,"lo":-0.6e-4,"hi":0.3e-4,"oh":0.5e-4,"ol":-0.6e-4,"bh":0.3e-4,"bl":-0.8e-4,"gh":0.4e-4,"gl":-0.7e-4,"yh":0.6e-4,"yl":-0.9e-4},
    {"w":2288,"lo":-1.2e-4,"hi":-0.2e-4,"oh":0.1e-4,"ol":-1.3e-4,"bh":-0.1e-4,"bl":-1.5e-4,"gh":0,"gl":-1.2e-4,"yh":-0.2e-4,"yl":-1.4e-4},
    {"w":2292,"lo":-1.8e-4,"hi":-0.6e-4,"oh":-0.5e-4,"ol":-2.0e-4,"bh":-0.3e-4,"bl":-1.8e-4,"gh":-0.6e-4,"gl":-2.1e-4,"yh":-0.4e-4,"yl":-2.3e-4},
    {"w":2296,"lo":-0.4e-4,"hi":1.0e-4,"oh":1.1e-4,"ol":-0.7e-4,"bh":1.0e-4,"bl":-0.5e-4,"gh":0.9e-4,"gl":-0.6e-4,"yh":1.2e-4,"yl":-0.4e-4},
    {"w":2300,"lo":0.8e-4,"hi":2.3e-4,"oh":2.4e-4,"ol":0.6e-4,"bh":2.3e-4,"bl":0.7e-4,"gh":2.5e-4,"gl":0.5e-4,"yh":2.6e-4,"yl":0.6e-4},
    {"w":2304,"lo":-0.2e-4,"hi":1.2e-4,"oh":1.4e-4,"ol":-0.4e-4,"bh":1.3e-4,"bl":-0.3e-4,"gh":1.5e-4,"gl":-0.5e-4,"yh":1.3e-4,"yl":-0.2e-4},
    {"w":2308,"lo":1.0e-4,"hi":3.5e-4,"oh":3.7e-4,"ol":0.8e-4,"bh":3.8e-4,"bl":0.9e-4,"gh":3.6e-4,"gl":0.7e-4,"yh":4.0e-4,"yl":0.8e-4},
    {"w":2312,"lo":3.0e-4,"hi":5.8e-4,"oh":6.0e-4,"ol":2.8e-4,"bh":5.9e-4,"bl":2.9e-4,"gh":6.1e-4,"gl":2.7e-4,"yh":6.4e-4,"yl":2.8e-4},
    {"w":2316,"lo":1.0e-4,"hi":4.0e-4,"oh":4.3e-4,"ol":0.8e-4,"bh":4.2e-4,"bl":0.9e-4,"gh":4.4e-4,"gl":0.7e-4,"yh":4.6e-4,"yl":0.8e-4},
    {"w":2320,"lo":-4.8e-4,"hi":-2.0e-4,"oh":-1.8e-4,"ol":-5.0e-4,"bh":-1.9e-4,"bl":-4.9e-4,"gh":-1.7e-4,"gl":-5.1e-4,"yh":-1.8e-4,"yl":-5.4e-4},
    {"w":2324,"lo":-3.0e-4,"hi":-0.5e-4,"oh":-0.3e-4,"ol":-3.2e-4,"bh":-0.4e-4,"bl":-3.1e-4,"gh":-0.2e-4,"gl":-3.3e-4,"yh":-0.3e-4,"yl":-3.5e-4},
    {"w":2328,"lo":-1.4e-4,"hi":0,"oh":0.2e-4,"ol":-1.6e-4,"bh":0.1e-4,"bl":-1.5e-4,"gh":0.3e-4,"gl":-1.7e-4,"yh":0.2e-4,"yl":-1.8e-4},
    {"w":2332,"lo":-0.8e-4,"hi":0.4e-4,"oh":0.6e-4,"ol":-1.0e-4,"bh":0.5e-4,"bl":-1.1e-4,"gh":0.7e-4,"gl":-0.9e-4,"yh":0.6e-4,"yl":-1.2e-4},
    {"w":2336,"lo":-0.4e-4,"hi":0.8e-4,"oh":1.0e-4,"ol":-0.6e-4,"bh":0.9e-4,"bl":-0.7e-4,"gh":1.1e-4,"gl":-0.5e-4,"yh":0.9e-4,"yl":-0.8e-4},
    {"w":2340,"lo":0,"hi":1.2e-4,"oh":1.4e-4,"ol":-0.2e-4,"bh":1.3e-4,"bl":-0.3e-4,"gh":1.5e-4,"gl":-0.1e-4,"yh":1.4e-4,"yl":-0.4e-4},
    {"w":2344,"lo":0.4e-4,"hi":2.2e-4,"oh":2.4e-4,"ol":0.2e-4,"bh":2.3e-4,"bl":0.1e-4,"gh":2.5e-4,"gl":0.3e-4,"yh":2.6e-4,"yl":0.2e-4},
    {"w":2348,"lo":1.0e-4,"hi":3.2e-4,"oh":3.4e-4,"ol":0.8e-4,"bh":3.3e-4,"bl":0.7e-4,"gh":3.3e-4,"gl":0.9e-4,"yh":3.7e-4,"yl":0.8e-4},
    {"w":2352,"lo":-0.4e-4,"hi":1.6e-4,"oh":1.8e-4,"ol":-0.6e-4,"bh":1.7e-4,"bl":-0.7e-4,"gh":1.9e-4,"gl":-0.5e-4,"yh":2.0e-4,"yl":-0.6e-4},
    {"w":2356,"lo":-2.4e-4,"hi":-0.6e-4,"oh":-0.4e-4,"ol":-2.6e-4,"bh":-0.5e-4,"bl":-2.5e-4,"gh":-0.3e-4,"gl":-2.7e-4,"yh":-0.4e-4,"yl":-2.9e-4},
    {"w":2360,"lo":-1.5e-4,"hi":0.2e-4,"oh":0.4e-4,"ol":-1.7e-4,"bh":0.3e-4,"bl":-1.8e-4,"gh":0.5e-4,"gl":-1.6e-4,"yh":0.4e-4,"yl":-1.9e-4},
    {"w":2364,"lo":-0.6e-4,"hi":0.6e-4,"oh":0.8e-4,"ol":-0.8e-4,"bh":0.7e-4,"bl":-0.9e-4,"gh":0.9e-4,"gl":-0.7e-4,"yh":0.8e-4,"yl":-1.0e-4},
    {"w":2368,"lo":-0.8e-4,"hi":0.6e-4,"oh":0.8e-4,"ol":-1.0e-4,"bh":0.7e-4,"bl":-1.1e-4,"gh":0.9e-4,"gl":-0.9e-4,"yh":0.7e-4,"yl":-1.0e-4},
    {"w":2372,"lo":-1.2e-4,"hi":0.9e-4,"oh":1.1e-4,"ol":-1.3e-4,"bh":1.2e-4,"bl":-1.5e-4,"gh":1.0e-4,"gl":-1.4e-4,"yh":1.3e-4,"yl":-1.2e-4},
    {"w":2376,"lo":-0.9e-4,"hi":0.6e-4,"oh":0.9e-4,"ol":-1.1e-4,"bh":0.8e-4,"bl":-1.0e-4,"gh":1.0e-4,"gl":-1.2e-4,"yh":0.7e-4,"yl":-1.3e-4},
    {"w":2380,"lo":-1.4e-4,"hi":1.0e-4,"oh":1.2e-4,"ol":-1.6e-4,"bh":1.4e-4,"bl":-1.5e-4,"gh":1.1e-4,"gl":-1.7e-4,"yh":1.3e-4,"yl":-1.8e-4},
    {"w":2384,"lo":-1.1e-4,"hi":0.8e-4,"oh":1.1e-4,"ol":-1.3e-4,"bh":0.9e-4,"bl":-1.4e-4,"gh":1.2e-4,"gl":-1.2e-4,"yh":1.0e-4,"yl":-1.5e-4},
    {"w":2388,"lo":-1.6e-4,"hi":1.1e-4,"oh":1.3e-4,"ol":-1.9e-4,"bh":1.5e-4,"bl":-1.7e-4,"gh":1.4e-4,"gl":-1.8e-4,"yh":1.2e-4,"yl":-2.0e-4},
    {"w":2392,"lo":-1.2e-4,"hi":0.9e-4,"oh":1.2e-4,"ol":-1.4e-4,"bh":1.0e-4,"bl":-1.6e-4,"gh":1.3e-4,"gl":-1.5e-4,"yh":1.1e-4,"yl":-1.3e-4},
    {"w":2396,"lo":-1.7e-4,"hi":1.3e-4,"oh":1.6e-4,"ol":-1.9e-4,"bh":1.5e-4,"bl":-2.0e-4,"gh":1.7e-4,"gl":-1.8e-4,"yh":1.4e-4,"yl":-2.2e-4},
    {"w":2400,"lo":-1.4e-4,"hi":1.0e-4,"oh":1.3e-4,"ol":-1.6e-4,"bh":1.4e-4,"bl":-1.8e-4,"gh":1.2e-4,"gl":-1.7e-4,"yh":1.5e-4,"yl":-1.5e-4},
    {"w":2404,"lo":-1.9e-4,"hi":1.4e-4,"oh":1.7e-4,"ol":-2.2e-4,"bh":1.9e-4,"bl":-2.0e-4,"gh":1.6e-4,"gl":-2.3e-4,"yh":1.8e-4,"yl":-2.1e-4},
    {"w":2408,"lo":-1.5e-4,"hi":1.1e-4,"oh":1.5e-4,"ol":-1.8e-4,"bh":1.3e-4,"bl":-1.7e-4,"gh":1.6e-4,"gl":-1.9e-4,"yh":1.4e-4,"yl":-2.0e-4},
    {"w":2412,"lo":-2.1e-4,"hi":1.5e-4,"oh":1.8e-4,"ol":-2.4e-4,"bh":2.0e-4,"bl":-2.3e-4,"gh":1.9e-4,"gl":-2.5e-4,"yh":2.1e-4,"yl":-2.6e-4},
    {"w":2416,"lo":-1.8e-4,"hi":1.3e-4,"oh":1.7e-4,"ol":-2.1e-4,"bh":1.5e-4,"bl":-2.2e-4,"gh":1.8e-4,"gl":-2.0e-4,"yh":1.6e-4,"yl":-2.3e-4},
    {"w":2420,"lo":-2.5e-4,"hi":1.8e-4,"oh":2.2e-4,"ol":-2.8e-4,"bh":2.1e-4,"bl":-2.9e-4,"gh":2.3e-4,"gl":-2.7e-4,"yh":2.5e-4,"yl":-3.0e-4},
    {"w":2424,"lo":-2.0e-4,"hi":1.4e-4,"oh":1.9e-4,"ol":-2.4e-4,"bh":1.7e-4,"bl":-2.3e-4,"gh":1.8e-4,"gl":-2.5e-4,"yh":2.0e-4,"yl":-2.6e-4},
    {"w":2428,"lo":-2.8e-4,"hi":2.0e-4,"oh":2.4e-4,"ol":-3.2e-4,"bh":2.6e-4,"bl":-3.1e-4,"gh":2.3e-4,"gl":-3.3e-4,"yh":2.7e-4,"yl":-3.4e-4},
    {"w":2432,"lo":-2.3e-4,"hi":1.7e-4,"oh":2.2e-4,"ol":-2.7e-4,"bh":2.0e-4,"bl":-2.8e-4,"gh":2.3e-4,"gl":-2.6e-4,"yh":2.1e-4,"yl":-2.9e-4},
    {"w":2436,"lo":-3.0e-4,"hi":2.3e-4,"oh":2.8e-4,"ol":-3.4e-4,"bh":2.9e-4,"bl":-3.6e-4,"gh":2.7e-4,"gl":-3.5e-4,"yh":3.1e-4,"yl":-3.7e-4},
    {"w":2440,"lo":-2.6e-4,"hi":1.9e-4,"oh":2.4e-4,"ol":-3.1e-4,"bh":2.2e-4,"bl":-3.0e-4,"gh":2.5e-4,"gl":-3.2e-4,"yh":2.3e-4,"yl":-3.3e-4},
    {"w":2444,"lo":-3.2e-4,"hi":2.6e-4,"oh":3.1e-4,"ol":-3.7e-4,"bh":3.2e-4,"bl":-3.8e-4,"gh":3.0e-4,"gl":-3.6e-4,"yh":3.4e-4,"yl":-4.0e-4},
    {"w":2448,"lo":-2.9e-4,"hi":2.2e-4,"oh":2.8e-4,"ol":-3.4e-4,"bh":2.6e-4,"bl":-3.5e-4,"gh":2.9e-4,"gl":-3.3e-4,"yh":2.7e-4,"yl":-3.6e-4},
    {"w":2452,"lo":-3.5e-4,"hi":2.9e-4,"oh":3.5e-4,"ol":-4.0e-4,"bh":3.4e-4,"bl":-4.2e-4,"gh":3.6e-4,"gl":-4.1e-4,"yh":3.7e-4,"yl":-4.3e-4},
    {"w":2456,"lo":-3.2e-4,"hi":2.6e-4,"oh":3.2e-4,"ol":-3.8e-4,"bh":3.1e-4,"bl":-3.7e-4,"gh":3.3e-4,"gl":-3.9e-4,"yh":3.0e-4,"yl":-4.0e-4},
    {"w":2460,"lo":-3.9e-4,"hi":3.2e-4,"oh":3.8e-4,"ol":-4.5e-4,"bh":4.0e-4,"bl":-4.4e-4,"gh":3.9e-4,"gl":-4.6e-4,"yh":4.1e-4,"yl":-4.8e-4},
    {"w":2464,"lo":-3.6e-4,"hi":3.0e-4,"oh":3.7e-4,"ol":-4.3e-4,"bh":3.6e-4,"bl":-4.4e-4,"gh":3.8e-4,"gl":-4.2e-4,"yh":3.5e-4,"yl":-4.5e-4},
    {"w":2468,"lo":-4.6e-4,"hi":4.0e-4,"oh":4.6e-4,"ol":-5.3e-4,"bh":4.8e-4,"bl":-5.2e-4,"gh":4.5e-4,"gl":-5.4e-4,"yh":4.7e-4,"yl":-5.6e-4,"kh":4.9e-4,"kl":-5.5e-4},
    {"w":2472,"lo":-5.0e-4,"hi":4.6e-4,"oh":5.3e-4,"ol":-5.7e-4,"bh":5.1e-4,"bl":-5.8e-4,"gh":5.4e-4,"gl":-5.6e-4,"yh":5.2e-4,"yl":-5.9e-4,"kh":5.8e-4,"kl":-6.0e-4},
    {"w":2476,"lo":-6.2e-4,"hi":5.4e-4,"oh":6.0e-4,"ol":-6.6e-4,"bh":6.2e-4,"bl":-6.8e-4,"gh":6.1e-4,"gl":-6.7e-4,"yh":6.3e-4,"yl":-7.0e-4,"kh":5.6e-4,"kl":-7.2e-4},
    {"w":2480,"lo":-5.8e-4,"hi":6.0e-4,"oh":6.6e-4,"ol":-6.4e-4,"bh":6.8e-4,"bl":-6.5e-4,"gh":6.5e-4,"gl":-6.3e-4,"yh":6.7e-4,"yl":-6.7e-4,"kh":6.9e-4,"kl":-6.6e-4},
    {"w":2484,"lo":-6.8e-4,"hi":6.6e-4,"oh":7.2e-4,"ol":-7.2e-4,"bh":7.1e-4,"bl":-7.4e-4,"gh":7.3e-4,"gl":-7.1e-4,"yh":7.0e-4,"yl":-7.5e-4,"kh":6.7e-4,"kl":-7.0e-4},
    {"w":2488,"lo":-6.4e-4,"hi":7.2e-4,"oh":7.8e-4,"ol":-6.9e-4,"bh":7.9e-4,"bl":-7.0e-4,"gh":7.6e-4,"gl":-6.8e-4,"yh":7.7e-4,"yl":-7.2e-4,"kh":7.4e-4,"kl":-6.7e-4},
    {"w":2492,"lo":-7.0e-4,"hi":8.0e-4,"oh":8.4e-4,"ol":-7.3e-4,"bh":8.6e-4,"bl":-7.5e-4,"gh":8.3e-4,"gl":-7.4e-4,"yh":8.2e-4,"yl":-7.6e-4,"kh":8.5e-4,"kl":-7.2e-4},
    {"w":2496,"lo":-6.9e-4,"hi":8.6e-4,"oh":8.9e-4,"ol":-7.2e-4,"bh":9.1e-4,"bl":-7.4e-4,"gh":8.8e-4,"gl":-7.5e-4,"yh":9.0e-4,"yl":-7.7e-4,"kh":9.3e-4,"kl":-7.3e-4},
    {"w":2500,"lo":-6.4e-4,"hi":9.0e-4,"oh":9.2e-4,"ol":-6.8e-4,"bh":9.4e-4,"bl":-7.0e-4,"gh":9.3e-4,"gl":-7.1e-4,"yh":9.1e-4,"yl":-7.3e-4,"kh":9.7e-4,"kl":-6.9e-4}
  ]},
  "layer": [
    {
      "transform": [
        {"fold": ["kh","kl","bh","bl","gh","gl","oh","ol","yh","yl"], "as": ["k","v"]},
        {"filter": "isValid(datum.v)"}
      ],
      "mark": {"type": "line", "strokeWidth": 1.3, "interpolate": "linear"},
      "encoding": {
        "x": {"field": "w", "type": "quantitative",
              "scale": {"domain": [1000, 2500], "nice": false, "zero": false},
              "axis": {"orient": "bottom", "values": [1000,1050,1100,1150,1200,1250,1300,1350,1400,1450,1500,1550,1600,1650,1700,1750,1800,1850,1900,1950,2000,2050,2100,2150,2200,2250,2300,2350,2400,2450,2500],
                       "labels": false, "domain": false, "grid": false, "title": null, "tickSize": -3, "tickColor": "#404040", "zindex": 1}},
        "y": {"field": "v", "type": "quantitative",
              "scale": {"domain": [-0.0008, 0.0012], "nice": false, "zero": false},
              "axis": {"orient": "left", "values": [-0.0008,-0.00076,-0.00072,-0.00068,-0.00064,-0.0006,-0.00056,-0.00052,-0.00048,-0.00044,-0.0004,-0.00036,-0.00032,-0.00028,-0.00024,-0.0002,-0.00016,-0.00012,-0.00008,-0.00004,0,0.00004,0.00008,0.00012,0.00016,0.0002,0.00024,0.00028,0.00032,0.00036,0.0004,0.00044,0.00048,0.00052,0.00056,0.0006,0.00064,0.00068,0.00072,0.00076,0.0008,0.00084,0.00088,0.00092,0.00096,0.001,0.00104,0.00108,0.00112,0.00116,0.0012],
                       "labels": false, "domain": false, "grid": false, "title": null, "tickSize": -3, "tickColor": "#404040", "zindex": 1}},
        "color": {"field": "k", "type": "nominal", "legend": null,
                  "scale": {"domain": ["kh","kl","yh","yl","gh","gl","oh","ol","bh","bl"],
                            "range": ["#7F7F7F","#7F7F7F","#FFC000","#FFC000","#70AD47","#70AD47","#ED7D31","#ED7D31","#2E6DB4","#2E6DB4"]}},
        "strokeDash": {"field": "k", "type": "nominal", "legend": null,
                  "scale": {"domain": ["kh","kl","yh","yl","gh","gl","oh","ol","bh","bl"],
                            "range": [[1,0],[1,0],[3,5],[4,4],[2,5],[3,4],[4,6],[2,4],[5,3],[3,3]]}}
      }
    },
    {
      "mark": {"type": "area", "color": "#8FAADC", "stroke": "#8FAADC", "strokeWidth": 1.5, "interpolate": "linear"},
      "encoding": {
        "x": {"field": "w", "type": "quantitative",
              "axis": {"orient": "bottom", "values": [1000,1250,1500,1750,2000,2250,2500], "format": "d", "tickSize": 4, "grid": false, "labelFlush": false, "labelOverlap": false, "labelBound": false,
                       "domainColor": "#404040", "tickColor": "#404040", "labelColor": "#595959", "labelFont": "Open Sans", "labelFontSize": 13, "labelPadding": 6,
                       "title": "Wavelength (nm)", "titleFont": "Open Sans", "titleFontSize": 14, "titleFontWeight": "bold", "titleColor": "#333333",
                       "titleX": 174, "titleY": 29, "titleAlign": "center", "titleBaseline": "top", "zindex": 1}},
        "y": {"field": "hi", "type": "quantitative",
              "axis": {"orient": "left", "values": [-0.0008,-0.0006,-0.0004,-0.0002,0,0.0002,0.0004,0.0006,0.0008,0.001,0.0012], "tickSize": 4, "grid": false, "labelFlush": false, "labelOverlap": false, "labelBound": false,
                       "labelExpr": "replace(format(datum.value, '~g'), '\u2212', '-')",
                       "domainColor": "#404040", "tickColor": "#404040", "labelColor": "#595959", "labelFont": "Open Sans", "labelFontSize": 13, "labelPadding": 9,
                       "title": "Diffuse reflectance", "titleFont": "Open Sans", "titleFontSize": 15, "titleFontWeight": "normal", "titleColor": "#404040",
                       "titleX": -68, "titleY": 143, "titleAlign": "center", "titleBaseline": "alphabetic", "titleAngle": -90, "zindex": 1}},
        "y2": {"field": "lo"}
      }
    }
  ],
  "resolve": {"axis": {"x": "independent", "y": "independent"}}
}
